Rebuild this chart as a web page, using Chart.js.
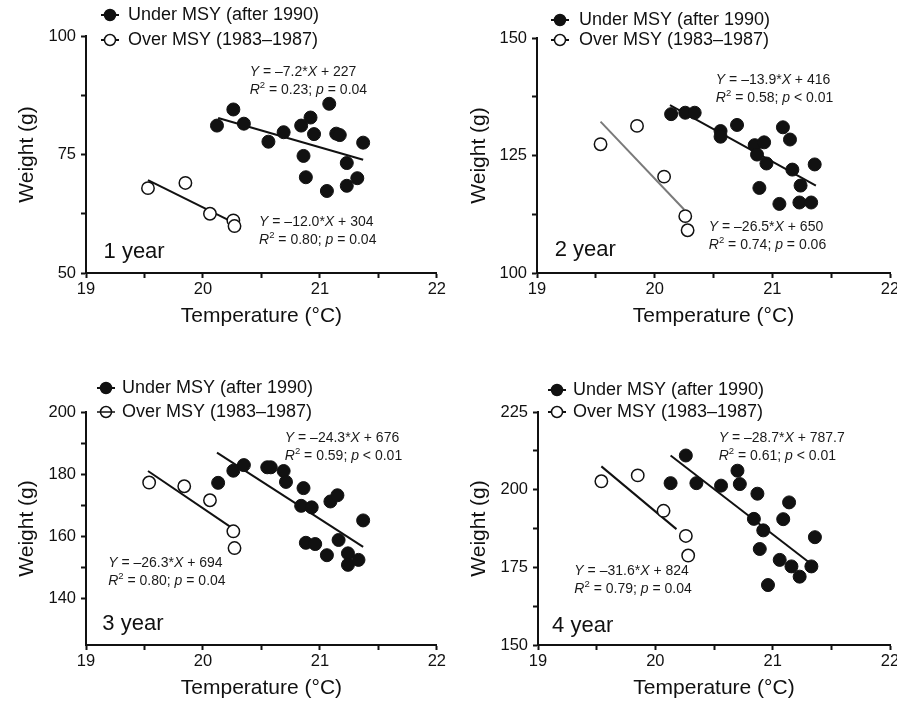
<!DOCTYPE html>
<html>
<head>
<meta charset="utf-8">
<script src="https://cdn.jsdelivr.net/npm/chart.js@4.4.0/dist/chart.umd.min.js"></script>
<style>
  body { margin: 0; background: #fff; }
  #wrap { position: relative; width: 897px; height: 703px; overflow: hidden; background: #fff; }
  canvas { position: absolute; }
</style>
</head>
<body>
<div id="wrap">
  <canvas id="c1" width="448" height="350" style="left:0;top:0"></canvas>
  <canvas id="c2" width="470" height="350" style="left:448px;top:0"></canvas>
  <canvas id="c3" width="448" height="353" style="left:0;top:350px"></canvas>
  <canvas id="c4" width="470" height="353" style="left:448px;top:350px"></canvas>
</div>
<script>
const FAM = '"Liberation Sans", Arial, Helvetica, sans-serif';
Chart.defaults.font.family = FAM;
Chart.defaults.color = '#111';

const seriesNames = ['Under MSY (after 1990)', 'Over MSY (1983–1987)'];
const panelLabels = ['1 year', '2 year', '3 year', '4 year'];
const xTickLabels = [19, 20, 21, 22];

// 1 year
const under1T = [20.12, 20.26, 20.35, 20.56, 20.69, 20.84, 20.92, 20.95, 20.86, 20.88, 21.08, 21.14, 21.17, 21.06, 21.23, 21.23, 21.32, 21.37];
const under1W = [81.1, 84.5, 81.5, 77.7, 79.7, 81.1, 82.8, 79.3, 74.7, 70.2, 85.7, 79.4, 79.1, 67.3, 73.2, 68.4, 70.0, 77.5];
const over1T = [19.53, 19.85, 20.06, 20.26, 20.27];
const over1W = [67.9, 69.0, 62.5, 61.1, 59.9];
const underFit1 = [[20.13, 82.7], [21.37, 73.9]];
const overFit1 = [[19.53, 69.6], [20.28, 60.4]];
const yTicks1 = [50, 75, 100];

// 2 year
const under2T = [20.14, 20.26, 20.34, 20.56, 20.56, 20.70, 20.85, 20.93, 20.87, 20.95, 20.89, 21.09, 21.15, 21.17, 21.24, 21.06, 21.23, 21.33, 21.36];
const under2W = [133.8, 134.1, 134.1, 130.2, 129.0, 131.5, 127.2, 127.8, 125.2, 123.3, 118.1, 131.0, 128.4, 122.0, 118.6, 114.7, 115.0, 115.0, 123.1];
const over2T = [19.54, 19.85, 20.08, 20.26, 20.28];
const over2W = [127.4, 131.3, 120.5, 112.1, 109.1];
const underFit2 = [[20.13, 135.7], [21.37, 118.6]];
const overFit2 = [[19.54, 132.2], [20.25, 113.5]];
const yTicks2 = [100, 125, 150];

// 3 year
const under3T = [20.13, 20.26, 20.35, 20.55, 20.58, 20.69, 20.71, 20.86, 20.84, 20.93, 20.88, 20.96, 21.09, 21.15, 21.06, 21.16, 21.24, 21.24, 21.33, 21.37];
const under3W = [177.2, 181.1, 182.9, 182.2, 182.2, 181.0, 177.5, 175.5, 169.8, 169.3, 157.9, 157.5, 171.2, 173.2, 153.9, 158.8, 154.5, 150.8, 152.4, 165.1];
const over3T = [19.54, 19.84, 20.06, 20.26, 20.27];
const over3W = [177.3, 176.1, 171.6, 161.6, 156.2];
const underFit3 = [[20.12, 186.9], [21.37, 156.6]];
const overFit3 = [[19.53, 181.0], [20.26, 162.4]];
const yTicks3 = [140, 160, 180, 200];

// 4 year
const under4T = [20.13, 20.26, 20.35, 20.56, 20.70, 20.72, 20.87, 20.84, 20.92, 20.89, 20.96, 21.09, 21.14, 21.06, 21.16, 21.23, 21.33, 21.36];
const under4W = [202.1, 211.0, 202.1, 201.3, 206.1, 201.8, 198.7, 190.6, 186.9, 180.9, 169.3, 190.5, 195.9, 177.4, 175.3, 172.0, 175.3, 184.7];
const over4T = [19.54, 19.85, 20.07, 20.26, 20.28];
const over4W = [202.7, 204.6, 193.2, 185.1, 178.8];
const underFit4 = [[20.13, 211.0], [21.32, 176.3]];
const overFit4 = [[19.54, 207.5], [20.18, 187.3]];
const yTicks4 = [150, 175, 200, 225];

const underEq = [
  ['_Y_ = –7.2*_X_ + 227', '_R_^2 = 0.23; _p_ = 0.04'],
  ['_Y_ = –13.9*_X_ + 416', '_R_^2 = 0.58; _p_ < 0.01'],
  ['_Y_ = –24.3*_X_ + 676', '_R_^2 = 0.59; _p_ < 0.01'],
  ['_Y_ = –28.7*_X_ + 787.7', '_R_^2 = 0.61; _p_ < 0.01']
];
const overEq = [
  ['_Y_ = –12.0*_X_ + 304', '_R_^2 = 0.80; _p_ = 0.04'],
  ['_Y_ = –26.5*_X_ + 650', '_R_^2 = 0.74; _p_ = 0.06'],
  ['_Y_ = –26.3*_X_ + 694', '_R_^2 = 0.80; _p_ = 0.04'],
  ['_Y_ = –31.6*_X_ + 824', '_R_^2 = 0.79; _p_ = 0.04']
];

function pts(xs, ys) { return xs.map((x, i) => ({x: x, y: ys[i]})); }
function fit(p) { return p.map(q => ({x: q[0], y: q[1]})); }

function drawRich(ctx, str, x, y, size) {
  const parts = str.split(/(_[^_]+_|\^\d)/).filter(Boolean);
  ctx.textBaseline = 'middle';
  ctx.textAlign = 'left';
  for (const p of parts) {
    let txt = p, font = size + 'px ' + FAM, dy = 0;
    if (p[0] === '_') { txt = p.slice(1, -1); font = 'italic ' + font; }
    else if (p[0] === '^') { txt = p.slice(1); font = (size * 0.68) + 'px ' + FAM; dy = -size * 0.35; }
    ctx.font = font;
    ctx.fillText(txt, x, y + dy);
    x += ctx.measureText(txt).width;
  }
}

const notes = {
  id: 'notes',
  afterDatasetsDraw(chart, args, o) {
    const ctx = chart.ctx, xs = chart.scales.x, ys = chart.scales.y, a = chart.chartArea;
    ctx.save();
    ctx.fillStyle = '#1a1a1a';
    // equations
    [[o.underAt, o.under], [o.overAt, o.over]].forEach(([at, lines]) => {
      const px = xs.getPixelForValue(at[0]), py = ys.getPixelForValue(at[1]);
      lines.forEach((l, i) => drawRich(ctx, l, px, py + i * 18, 14));
    });
    // panel label
    ctx.font = '22px ' + FAM;
    ctx.fillStyle = '#111';
    ctx.textBaseline = 'middle';
    ctx.fillText(o.label, xs.getPixelForValue(o.labelAt[0]), ys.getPixelForValue(o.labelAt[1]));
    // legend
    const mx = a.left + o.legend[0], tx = a.left + o.legend[1];
    chart.data.datasets.slice(0, 2).forEach((ds, i) => {
      const yy = a.top + o.legend[2 + i];
      ctx.strokeStyle = '#111';
      ctx.lineWidth = 2;
      const line = () => { ctx.beginPath(); ctx.moveTo(mx - 9, yy); ctx.lineTo(mx + 9, yy); ctx.stroke(); };
      if (!(i === 1 && o.lineOver)) line();
      ctx.beginPath();
      ctx.arc(mx, yy, 5.5, 0, Math.PI * 2);
      ctx.fillStyle = i === 0 ? '#111' : '#fff';
      ctx.fill();
      ctx.lineWidth = 1.5;
      ctx.stroke();
      if (i === 1 && o.lineOver) { ctx.lineWidth = 1.5; line(); }
      ctx.fillStyle = '#111';
      ctx.font = '18px ' + FAM;
      ctx.textBaseline = 'middle';
      ctx.fillText(ds.label, tx, yy);
    });
    ctx.restore();
  }
};

function makePanel(id, p) {
  const canvas = document.getElementById(id);
  const W = canvas.width, H = canvas.height, a = p.area;
  return new Chart(canvas, {
    type: 'scatter',
    data: {
      datasets: [
        {label: seriesNames[0], data: pts(p.uT, p.uW), backgroundColor: '#111', borderColor: '#111', borderWidth: 1, pointRadius: 6.5, order: 0},
        {label: seriesNames[1], data: pts(p.oT, p.oW), backgroundColor: '#fff', borderColor: '#111', borderWidth: 1.5, pointRadius: 6.2, order: 0},
        {type: 'line', data: fit(p.uFit), borderColor: '#111', borderWidth: 2, pointRadius: 0, fill: false, order: 1},
        {type: 'line', data: fit(p.oFit), borderColor: p.oColor || '#111', borderWidth: 2, pointRadius: 0, fill: false, order: 1}
      ]
    },
    options: {
      responsive: false,
      animation: false,
      devicePixelRatio: 1,
      layout: {padding: {left: 0, top: a.t, right: W - a.r, bottom: 0}},
      plugins: {
        legend: {display: false},
        tooltip: {enabled: false},
        notes: {
          under: underEq[p.i], over: overEq[p.i], underAt: p.underAt, overAt: p.overAt,
          label: panelLabels[p.i], labelAt: p.labelAt, legend: p.legend, lineOver: p.lineOver
        }
      },
      scales: {
        x: {
          type: 'linear', min: 19, max: 22,
          afterFit: s => { s.height = H - a.b; },
          border: {color: '#111', width: 2},
          grid: {drawOnChartArea: false, tickLength: 5, tickWidth: 2, tickColor: '#111'},
          ticks: {stepSize: 0.5, autoSkip: false, maxRotation: 0, padding: 2, font: {size: 16.5}, color: '#111',
            callback: v => xTickLabels.includes(v) ? String(v) : ''},
          title: {display: true, text: 'Temperature (°C)', font: {size: 21}, color: '#111',
            padding: {top: 0, bottom: H - a.b - 43 - 12.6}}
        },
        y: {
          type: 'linear', min: p.yMin, max: p.yMax,
          afterFit: s => { s.width = a.l; },
          afterBuildTicks: s => { s.ticks = s.ticks.filter(t => t.value > p.yMin || p.yTicks.includes(t.value)); },
          border: {color: '#111', width: 2},
          grid: {drawOnChartArea: false, tickLength: 5, tickWidth: 2, tickColor: '#111'},
          ticks: {stepSize: p.step, autoSkip: false, padding: 5, font: {size: 16.5}, color: '#111',
            callback: v => p.yTicks.includes(v) ? String(v) : ''},
          title: {display: true, text: 'Weight (g)', font: {size: 21}, color: '#111',
            padding: {top: p.titleX - 12.6, bottom: 0}}
        }
      }
    },
    plugins: [notes]
  });
}

makePanel('c1', {i: 0, area: {l: 86, t: 36, r: 437, b: 273}, yMin: 50, yMax: 100, step: 12.5, yTicks: yTicks1,
  uT: under1T, uW: under1W, oT: over1T, oW: over1W, uFit: underFit1, oFit: overFit1,
  underAt: [20.40, 92.3], overAt: [20.48, 60.7], labelAt: [19.15, 54.4], legend: [24, 42, -21, 4], titleX: 27});
makePanel('c2', {i: 1, area: {l: 89, t: 38, r: 442, b: 273}, yMin: 100, yMax: 150, step: 12.5, yTicks: yTicks2,
  uT: under2T, uW: under2W, oT: over2T, oW: over2W, uFit: underFit2, oFit: overFit2, oColor: '#7a7a7a',
  underAt: [20.52, 141.1], overAt: [20.46, 109.8], labelAt: [19.15, 104.9], legend: [23, 42, -18, 2], titleX: 31});
makePanel('c3', {i: 2, area: {l: 86, t: 62, r: 437, b: 295}, yMin: 125, yMax: 200, step: 10, yTicks: yTicks3,
  uT: under3T, uW: under3W, oT: over3T, oW: over3W, uFit: underFit3, oFit: overFit3, lineOver: true,
  underAt: [20.70, 191.7], overAt: [19.19, 151.4], labelAt: [19.14, 131.7], legend: [20, 36, -24, 0], titleX: 27});
makePanel('c4', {i: 3, area: {l: 90, t: 62, r: 442, b: 295}, yMin: 150, yMax: 225, step: 12.5, yTicks: yTicks4,
  uT: under4T, uW: under4W, oT: over4T, oW: over4W, uFit: underFit4, oFit: overFit4,
  underAt: [20.54, 216.7], overAt: [19.31, 173.8], labelAt: [19.12, 156.1], legend: [19, 35, -22, 0], titleX: 31});
</script>
</body>
</html>
